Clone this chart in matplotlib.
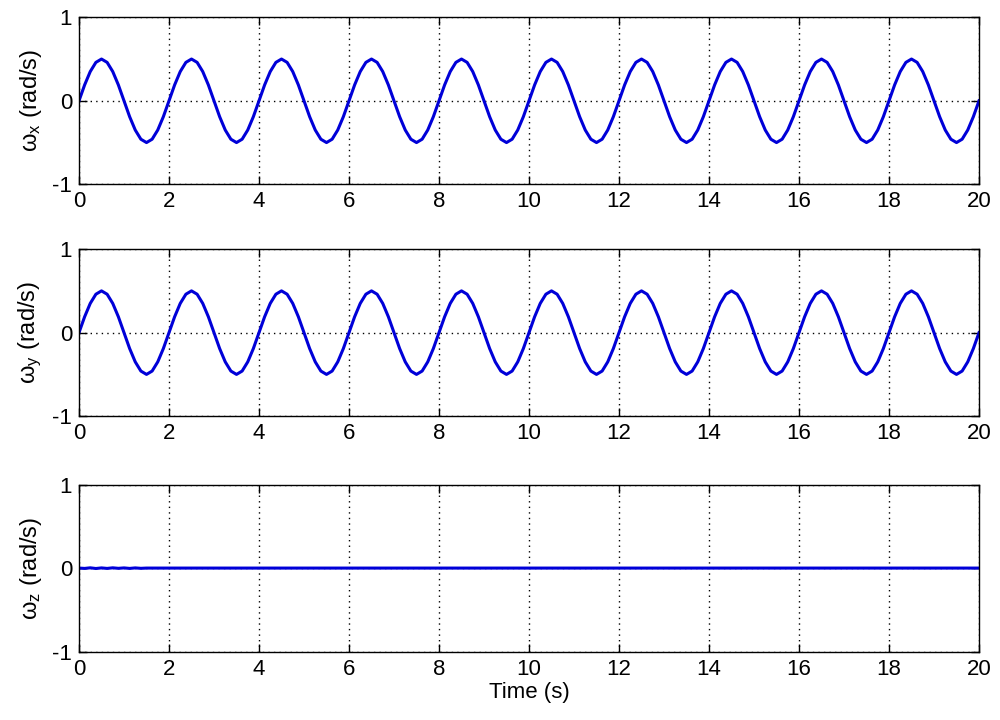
import numpy as np
import matplotlib
matplotlib.use("Agg")
import matplotlib.pyplot as plt

# =========================
# Data
# =========================

t = np.linspace(0, 20, 161)

wx = [
    0, 0.19, 0.35, 0.46, 0.5, 0.46, 0.35, 0.19, 0, -0.19, -0.35, -0.46, -0.5, -0.46, -0.35, -0.19,
    0, 0.19, 0.35, 0.46, 0.5, 0.46, 0.35, 0.19, 0, -0.19, -0.35, -0.46, -0.5, -0.46, -0.35, -0.19,
    0, 0.19, 0.35, 0.46, 0.5, 0.46, 0.35, 0.19, 0, -0.19, -0.35, -0.46, -0.5, -0.46, -0.35, -0.19,
    0, 0.19, 0.35, 0.46, 0.5, 0.46, 0.35, 0.19, 0, -0.19, -0.35, -0.46, -0.5, -0.46, -0.35, -0.19,
    0, 0.19, 0.35, 0.46, 0.5, 0.46, 0.35, 0.19, 0, -0.19, -0.35, -0.46, -0.5, -0.46, -0.35, -0.19,
    0, 0.19, 0.35, 0.46, 0.5, 0.46, 0.35, 0.19, 0, -0.19, -0.35, -0.46, -0.5, -0.46, -0.35, -0.19,
    0, 0.19, 0.35, 0.46, 0.5, 0.46, 0.35, 0.19, 0, -0.19, -0.35, -0.46, -0.5, -0.46, -0.35, -0.19,
    0, 0.19, 0.35, 0.46, 0.5, 0.46, 0.35, 0.19, 0, -0.19, -0.35, -0.46, -0.5, -0.46, -0.35, -0.19,
    0, 0.19, 0.35, 0.46, 0.5, 0.46, 0.35, 0.19, 0, -0.19, -0.35, -0.46, -0.5, -0.46, -0.35, -0.19,
    0, 0.19, 0.35, 0.46, 0.5, 0.46, 0.35, 0.19, 0, -0.19, -0.35, -0.46, -0.5, -0.46, -0.35, -0.19,
    0,
]

wy = [
    0, 0.19, 0.35, 0.46, 0.5, 0.46, 0.35, 0.19, 0, -0.19, -0.35, -0.46, -0.5, -0.46, -0.35, -0.19,
    0, 0.19, 0.35, 0.46, 0.5, 0.46, 0.35, 0.19, 0, -0.19, -0.35, -0.46, -0.5, -0.46, -0.35, -0.19,
    0, 0.19, 0.35, 0.46, 0.5, 0.46, 0.35, 0.19, 0, -0.19, -0.35, -0.46, -0.5, -0.46, -0.35, -0.19,
    0, 0.19, 0.35, 0.46, 0.5, 0.46, 0.35, 0.19, 0, -0.19, -0.35, -0.46, -0.5, -0.46, -0.35, -0.19,
    0, 0.19, 0.35, 0.46, 0.5, 0.46, 0.35, 0.19, 0, -0.19, -0.35, -0.46, -0.5, -0.46, -0.35, -0.19,
    0, 0.19, 0.35, 0.46, 0.5, 0.46, 0.35, 0.19, 0, -0.19, -0.35, -0.46, -0.5, -0.46, -0.35, -0.19,
    0, 0.19, 0.35, 0.46, 0.5, 0.46, 0.35, 0.19, 0, -0.19, -0.35, -0.46, -0.5, -0.46, -0.35, -0.19,
    0, 0.19, 0.35, 0.46, 0.5, 0.46, 0.35, 0.19, 0, -0.19, -0.35, -0.46, -0.5, -0.46, -0.35, -0.19,
    0, 0.19, 0.35, 0.46, 0.5, 0.46, 0.35, 0.19, 0, -0.19, -0.35, -0.46, -0.5, -0.46, -0.35, -0.19,
    0, 0.19, 0.35, 0.46, 0.5, 0.46, 0.35, 0.19, 0, -0.19, -0.35, -0.46, -0.5, -0.46, -0.35, -0.19,
    0,
]

# tiny jitter near the start, flat afterwards
wz = [0, -0.004, 0.003, -0.005, 0.002, -0.004, 0.003, -0.003, 0.002, -0.004, 0.002, -0.003, 0] + [0] * 148

xticks = [0, 2, 4, 6, 8, 10, 12, 14, 16, 18, 20]
yticks = [-1, 0, 1]
ylabels = [r"$\omega_\mathrm{x}$ (rad/s)", r"$\omega_\mathrm{y}$ (rad/s)", r"$\omega_\mathrm{z}$ (rad/s)"]

# =========================
# Style
# =========================

plt.rcParams["font.family"] = ["Liberation Sans", "DejaVu Sans"]
plt.rcParams["mathtext.fontset"] = "custom"
plt.rcParams["mathtext.rm"] = "Liberation Sans"
plt.rcParams["mathtext.it"] = "Liberation Sans"
plt.rcParams["mathtext.default"] = "regular"
plt.rcParams["axes.unicode_minus"] = False

fig = plt.figure(figsize=(10, 7.2), dpi=100)

boxes = [
    [0.079, 0.744, 0.900, 0.232],
    [0.079, 0.422, 0.900, 0.232],
    [0.079, 0.095, 0.900, 0.232],
]

for box, y, lab in zip(boxes, [wx, wy, wz], ylabels):

    ax = fig.add_axes(box)

    ax.plot(t, y, color="#0000d8", linewidth=2.2)

    ax.set_xlim(0, 20)
    ax.set_ylim(-1, 1)
    ax.set_xticks(xticks)
    ax.set_yticks(yticks)

    ax.grid(True, color="black", linestyle=(0, (1, 3)), linewidth=1.0)

    ax.tick_params(direction="in", top=True, right=True, labelsize=16,
                   length=6, width=1, pad=5)

    for s in ax.spines.values():
        s.set_linewidth(1.0)

    ax.set_ylabel(lab, fontsize=17, labelpad=6)

ax.set_xlabel("Time (s)", fontsize=16, labelpad=2)

plt.savefig("out.png", dpi=100)
